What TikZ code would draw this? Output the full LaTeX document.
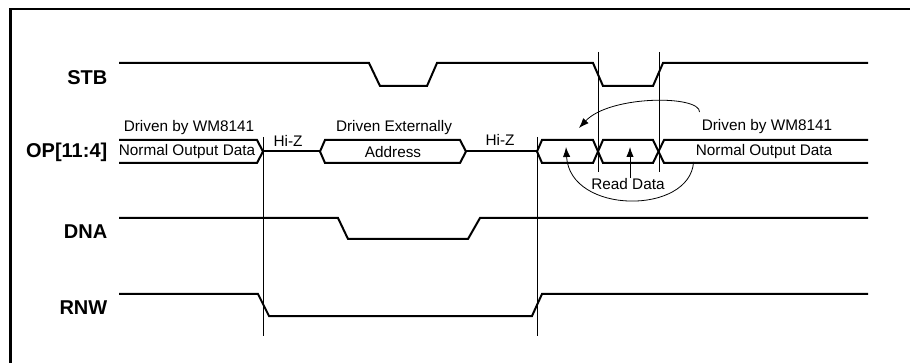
\documentclass[tikz,border=0pt]{standalone}
\usepackage{fontspec}
\setmainfont{Liberation Sans}
\usetikzlibrary{arrows.meta}

\tikzset{
  sig/.style={line width=1.5pt},
  sname/.style={anchor=east,font=\fontsize{15}{17}\selectfont\bfseries},
  txt/.style={font=\fontsize{11.5}{13}\selectfont,inner sep=0pt},
  mark line/.style={line width=0.6pt},
  tip/.style={-{Latex[length=7.5pt,width=5.5pt]}}
}

\begin{document}
\begin{tikzpicture}[x=0.75pt,y=-0.75pt]
\useasboundingbox (0,0) rectangle (910,363);

% frame
\draw[line width=1.6pt] (10.5,363) -- (10.5,9) -- (910,9);

% signal names
\node[sname] (stb) at (112,78) {STB};
\node[sname] (op) at (112,152) {OP[11:4]};
\node[sname] (dna) at (112,232) {DNA};
\node[sname] (rnw) at (112,308) {RNW};

% timing markers
\draw[mark line] (263,137) -- (263,336);
\draw[mark line] (537,137) -- (537,336);
\draw[mark line] (598,52) -- (598,172);
\draw[mark line] (659,52) -- (659,172);

% STB
\draw[sig] (119,63) -- (369,63) -- (380,86) -- (427,86) -- (437,63) -- (593,63) -- (603,86) -- (653,86) -- (663,63) -- (868,63);

% OP bus
\draw[sig] (119,140) -- (257,140) -- (263,151.5) -- (257,163) -- (119,163);
\draw[sig] (263,151.5) -- (320,151.5);
\draw[sig] (320,151.5) -- (325,140) -- (460,140) -- (466,151.5) -- (460,163) -- (325,163) -- cycle;
\draw[sig] (466,151.5) -- (537,151.5);
\draw[sig] (537,151.5) -- (542,140) -- (593,140) -- (603,163) -- (653,163) -- (664,140) -- (868,140);
\draw[sig] (537,151.5) -- (542,163) -- (593,163) -- (603,140) -- (653,140) -- (664,163) -- (868,163);

% DNA
\draw[sig] (119,218) -- (338,218) -- (348,239) -- (468,239) -- (480,218) -- (868,218);

% RNW
\draw[sig] (119,294) -- (258,294) -- (269,316) -- (532,316) -- (542,294) -- (868,294);

% bus labels
\node[txt] (drvl) at (189,128) {Driven by WM8141};
\node[txt] (nodl) at (187,152) {Normal Output Data};
\node[txt] (hizl) at (288,141) {Hi-Z};
\node[txt] (drvx) at (394,128) {Driven Externally};
\node[txt] (addr) at (393,152) {Address};
\node[txt] (hizr) at (500,140) {Hi-Z};
\node[txt] (drvr) at (767,127) {Driven by WM8141};
\node[txt] (nodr) at (764,152) {Normal Output Data};
\node[txt] (rd) at (628,184) {Read Data};

% arrows
\coordinate (tipa) at (579,128);
\coordinate (tipb) at (566,147);
\coordinate (tipc) at (630,147);
\draw[mark line,tip] (drvr.west |- 0,112) ++(-2,0) .. controls (700,95) and (610,95) .. (tipa);
\draw[mark line,tip] (nodr.west |- 0,162) ++(-2,0) .. controls (690,215) and (570,215) .. (tipb);
\draw[mark line,tip] (rd.north -| tipc) -- (tipc);

\end{tikzpicture}
\end{document}
